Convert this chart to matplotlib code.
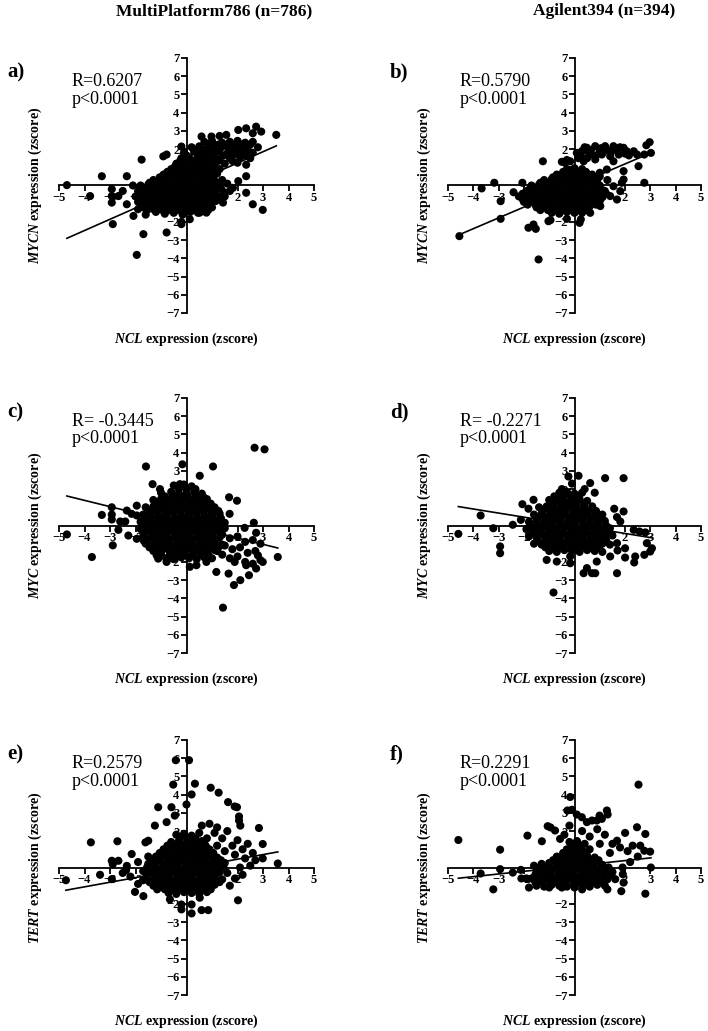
import numpy as np
from matplotlib import pyplot as plt

plt.rcParams['font.family'] = 'Liberation Serif'
plt.rcParams['mathtext.fontset'] = 'custom'
plt.rcParams['mathtext.it'] = 'Liberation Serif:italic:bold'
plt.rcParams['mathtext.rm'] = 'Liberation Serif:bold'

# ---- data (NCL zscore, gene zscore) ----
pts_a = [(-4.69, 0.02), (-3.32, 0.51), (-3.78, -0.58), (-2.93, -0.2), (-2.93, -0.58), (-2.93, -0.94),
         (-2.67, -0.58), (-2.34, 0.51), (-2.34, -1.03), (-2.89, -2.12), (-1.76, 1.42), (-2.08, -1.67),
         (-1.69, -2.67), (-1.95, -3.81), (-0.78, -2.58), (-0.2, -2.0), (-0.2, -2.12), (0.13, -1.85),
         (-0.91, 1.6), (-0.78, 1.7), (-0.2, 2.14), (0.59, 2.69), (0.98, 2.69), (1.30, 2.72), (1.56, 2.78),
         (2.03, 3.05), (2.34, 3.14), (2.73, 3.23), (2.93, 2.96), (2.6, 2.87), (3.52, 2.78), (2.34, 1.14),
         (2.34, 0.51), (2.34, -0.4), (2.03, 0.24), (1.82, -0.13), (2.6, -1.03), (2.99, -1.34), (1.43, -0.94),
         (0.52, -1.49), (0.78, -1.49), (1.04, -0.76), (-2.1, 0.0), (-2.5, -0.3), (-1.6, -1.6), (-1.9, -1.3),
         (1.6, 0.1), (1.7, -0.3), (1.5, -0.6),
         (-1.2, -1.45), (-0.85, -1.55), (-0.5, -1.5), (-0.15, -1.6), (0.15, -1.45), (0.45, -1.5),
         (-1.7, -1.2), (-1.4, -1.25), (-1.1, -1.15), (-0.8, -1.2), (-0.5, -1.25), (-0.2, -1.15), (0.1, -1.2),
         (0.4, -1.25), (0.7, -1.15), (1.0, -1.2),
         (-1.9, -0.9), (-1.6, -0.85), (-1.3, -0.95), (-1.0, -0.9), (-0.7, -0.85), (-0.4, -0.95), (-0.1, -0.9),
         (0.2, -0.85), (0.5, -0.95), (0.8, -0.9), (1.15, -0.85),
         (-2.0, -0.6), (-1.7, -0.55), (-1.4, -0.65), (-1.1, -0.6), (-0.8, -0.55), (-0.5, -0.65), (-0.2, -0.6),
         (0.1, -0.55), (0.4, -0.65), (0.7, -0.6), (1.0, -0.55), (1.3, -0.65),
         (-1.9, -0.3), (-1.6, -0.25), (-1.3, -0.35), (-1.0, -0.3), (-0.7, -0.25), (-0.4, -0.35), (-0.1, -0.3),
         (0.2, -0.25), (0.5, -0.35), (0.8, -0.3), (1.1, -0.25), (1.45, -0.35),
         (-1.8, 0.0), (-1.5, 0.05), (-1.2, -0.05), (-0.9, 0.0), (-0.6, 0.05), (-0.3, -0.05), (0.0, 0.0),
         (0.3, 0.05), (0.6, -0.05), (0.9, 0.0), (1.2, 0.05),
         (-1.3, 0.3), (-1.0, 0.35), (-0.7, 0.25), (-0.4, 0.3), (-0.1, 0.35), (0.2, 0.25), (0.5, 0.3),
         (0.8, 0.35), (1.1, 0.25), (1.4, 0.3),
         (-0.9, 0.6), (-0.6, 0.65), (-0.3, 0.55), (0.0, 0.6), (0.3, 0.65), (0.6, 0.55), (0.9, 0.6), (1.2, 0.65),
         (-0.6, 0.9), (-0.3, 0.95), (0.0, 0.85), (0.3, 0.9), (0.6, 0.95), (0.9, 0.85), (1.3, 0.9),
         (-0.4, 1.2), (-0.1, 1.25), (0.2, 1.15), (0.5, 1.2), (0.8, 1.25), (1.1, 1.15), (1.5, 1.2), (2.0, 1.25),
         (-0.2, 1.5), (0.1, 1.55), (0.4, 1.45), (0.7, 1.5), (1.0, 1.55), (1.3, 1.45), (1.7, 1.5), (2.1, 1.55),
         (2.5, 1.5),
         (-0.1, 1.8), (0.3, 1.85), (0.6, 1.75), (0.9, 1.8), (1.2, 1.85), (1.6, 1.75), (1.9, 1.8), (2.2, 1.85),
         (2.6, 1.8),
         (0.2, 2.1), (0.5, 2.15), (0.8, 2.05), (1.1, 2.1), (1.4, 2.15), (1.8, 2.05), (2.1, 2.1), (2.4, 2.15),
         (2.8, 2.1),
         (0.7, 2.4), (1.0, 2.45), (1.4, 2.35), (1.7, 2.4), (2.0, 2.45), (2.3, 2.35), (2.6, 2.4)]
# dense core of the cloud, as rows: (y, [x, ...])
core_a = [(-1.35, [-1.55, -1.25, -0.95, -0.65, -0.35, -0.05, 0.25, 0.55, 0.85]),
          (-1.05, [-1.75, -1.45, -1.15, -0.85, -0.55, -0.25, 0.05, 0.35, 0.65, 0.95]),
          (-0.75, [-1.85, -1.55, -1.25, -0.95, -0.65, -0.35, -0.05, 0.25, 0.55, 0.85, 1.15]),
          (-0.45, [-1.85, -1.55, -1.25, -0.95, -0.65, -0.35, -0.05, 0.25, 0.55, 0.85, 1.15]),
          (-0.15, [-1.65, -1.35, -1.05, -0.75, -0.45, -0.15, 0.15, 0.45, 0.75, 1.05, 1.35]),
          (0.15, [-1.45, -1.15, -0.85, -0.55, -0.25, 0.05, 0.35, 0.65, 0.95, 1.25]),
          (0.45, [-1.05, -0.75, -0.45, -0.15, 0.15, 0.45, 0.75, 1.05]),
          (0.75, [-0.75, -0.45, -0.15, 0.15, 0.45, 0.75, 1.05]),
          (1.05, [-0.45, -0.15, 0.15, 0.45, 0.75, 1.05]),
          (1.35, [-0.25, 0.05, 0.35, 0.65, 0.95, 1.25, 1.8]),
          (1.65, [0.0, 0.45, 0.75, 1.05, 1.45, 1.8, 2.3]),
          (1.95, [0.4, 0.7, 1.0, 1.3, 1.65, 2.0, 2.4]),
          (2.25, [0.9, 1.25, 1.6, 1.9, 2.2, 2.5])]

pts_b = [(-4.55, -2.78), (-3.67, -0.16), (-3.17, 0.15), (-2.92, -0.86), (-2.92, -1.83), (-2.41, -0.37),
         (-2.06, 0.15), (-1.82, -2.32), (-1.53, -2.38), (-1.62, -2.14), (-1.42, -4.06), (-1.25, 1.33),
         (-1.03, -1.96), (-0.95, -1.9), (-0.3, -1.83), (0.2, -2.05), (0.25, -1.86), (-0.5, 1.3), (-0.3, 1.4),
         (-0.37, 1.24), (-0.17, 1.33), (0.09, 1.79), (0.49, 2.07), (0.82, 2.16), (1.21, 2.16), (1.54, 2.16),
         (1.94, 2.07), (2.34, 1.88), (1.41, 1.61), (1.08, 1.7), (0.62, 1.7), (0.36, 1.33), (0.82, 1.43),
         (1.54, 1.33), (2.07, 1.88), (2.47, 1.70), (2.76, 1.70), (2.84, 2.21), (2.97, 2.38), (3.02, 1.79),
         (2.53, 1.06), (1.94, 0.79), (1.28, 0.88), (2.76, 0.15),
         (0.3, 1.9), (0.65, 1.95), (1.0, 1.9), (1.3, 1.95), (1.7, 1.9), (2.0, 1.75), (0.15, 1.5), (0.5, 1.5),
         (1.8, 2.1), (1.54, -0.04), (1.81, -0.31), (1.94, 0.33), (1.87, 0.15), (1.68, -0.77), (1.41, -0.58),
         (1.02, -1.13), (0.62, -1.5), (1.2, -0.3), (1.0, 0.5), (1.3, 0.3), (0.7, 0.6), (1.0, 0.7),
         (-0.9, -1.5), (-0.6, -1.55), (-0.3, -1.45), (0.0, -1.5), (0.3, -1.5),
         (-1.5, -1.2), (-1.2, -1.15), (-0.9, -1.25), (-0.6, -1.2), (-0.3, -1.15), (0.0, -1.25), (0.3, -1.2),
         (0.6, -1.15),
         (-2.0, -0.9), (-1.7, -0.85), (-1.4, -0.95), (-1.1, -0.9), (-0.8, -0.85), (-0.5, -0.95), (-0.2, -0.9),
         (0.1, -0.85), (0.4, -0.95), (0.7, -0.9), (1.0, -0.85),
         (-2.2, -0.6), (-1.9, -0.55), (-1.6, -0.65), (-1.3, -0.6), (-1.0, -0.55), (-0.7, -0.65), (-0.4, -0.6),
         (-0.1, -0.55), (0.2, -0.65), (0.5, -0.6), (0.8, -0.55), (1.1, -0.65),
         (-1.9, -0.3), (-1.6, -0.25), (-1.3, -0.35), (-1.0, -0.3), (-0.7, -0.25), (-0.4, -0.35), (-0.1, -0.3),
         (0.2, -0.25), (0.5, -0.35), (0.8, -0.3), (1.1, -0.25),
         (-1.7, 0.0), (-1.4, 0.05), (-1.1, -0.05), (-0.8, 0.0), (-0.5, 0.05), (-0.2, -0.05), (0.1, 0.0),
         (0.4, 0.05), (0.7, -0.05), (1.0, 0.0),
         (-1.2, 0.3), (-0.9, 0.35), (-0.6, 0.25), (-0.3, 0.3), (0.0, 0.35), (0.3, 0.25), (0.6, 0.3), (0.9, 0.3),
         (-0.7, 0.6), (-0.4, 0.65), (-0.1, 0.55), (0.2, 0.6), (0.5, 0.65),
         (-0.3, 0.9), (0.0, 0.95), (0.3, 0.9),
         (0.25, 1.65), (0.55, 1.85), (0.85, 1.65), (1.15, 1.85), (1.45, 1.85), (1.75, 1.7), (2.15, 1.65),
         (0.4, 2.1), (1.05, 2.05), (1.65, 2.05)]
core_b = [(-1.35, [-1.35, -1.05, -0.75, -0.45, -0.15, 0.15, 0.45]),
          (-1.05, [-1.85, -1.55, -1.25, -0.95, -0.65, -0.35, -0.05, 0.25, 0.55, 0.85]),
          (-0.75, [-2.05, -1.75, -1.45, -1.15, -0.85, -0.55, -0.25, 0.05, 0.35, 0.65, 0.95]),
          (-0.45, [-2.05, -1.75, -1.45, -1.15, -0.85, -0.55, -0.25, 0.05, 0.35, 0.65, 0.95, 1.25]),
          (-0.15, [-1.75, -1.45, -1.15, -0.85, -0.55, -0.25, 0.05, 0.35, 0.65, 0.95]),
          (0.15, [-1.35, -1.05, -0.75, -0.45, -0.15, 0.15, 0.45, 0.75]),
          (0.45, [-0.85, -0.55, -0.25, 0.05, 0.35, 0.65]),
          (0.75, [-0.45, -0.15, 0.15, 0.45])]

pts_c = [(-4.69, -0.49), (-3.71, -1.73), (-3.32, 0.58), (-2.93, 1.0), (-2.93, 0.6), (-2.93, 0.33),
         (-2.89, -1.09), (-2.67, -0.24), (-2.6, 0.22), (-2.4, 0.22), (-2.28, -0.55), (-2.34, 0.82),
         (-2.15, 0.64), (-1.95, 1.09), (-1.95, 0.55), (-1.95, -0.73), (-1.67, -0.85), (-1.59, 3.24),
         (-1.33, 2.27), (-1.04, 2.0), (-0.16, 3.36), (0.52, 2.73), (1.04, 3.24), (-0.26, 2.27), (2.67, 4.27),
         (3.06, 4.18), (1.67, 1.55), (1.98, 1.36), (1.69, 0.64), (2.64, 0.15), (2.28, -0.13), (2.73, -0.4),
         (3.58, -1.73), (1.43, -4.51),
         (1.86, -3.27), (2.11, -3.0), (2.45, -2.73), (1.65, -2.64), (2.73, -2.36), (2.99, -2.0), (2.34, -2.18),
         (2.8, -1.64), (1.89, -2.0), (1.17, -2.55), (0.78, -2.0), (0.39, -2.18), (0.13, -2.27), (-0.78, -2.0),
         (-1.11, -1.82), (-1.17, -1.64),
         (1.4, -0.5), (1.7, -0.7), (2.0, -0.6), (2.3, -0.9), (2.6, -0.8), (2.9, -1.0), (1.5, -1.1), (1.8, -1.3),
         (2.1, -1.2), (2.4, -1.5), (2.7, -1.4), (1.4, -1.6), (1.7, -1.8), (2.0, -1.7), (2.3, -2.0), (2.6, -2.1),
         (2.9, -1.9), (1.2, -1.4),
         (-0.8, -1.8), (-0.5, -1.85), (-0.2, -1.75), (0.1, -1.8), (0.4, -1.85), (0.7, -1.75), (1.0, -1.8),
         (-1.3, -1.4), (-1.0, -1.45), (-0.7, -1.35), (-0.4, -1.4), (-0.1, -1.45), (0.2, -1.35), (0.5, -1.4),
         (0.8, -1.45), (1.1, -1.35),
         (-1.6, -1.0), (-1.3, -1.05), (-1.0, -0.95), (-0.7, -1.0), (-0.4, -1.05), (-0.1, -0.95), (0.2, -1.0),
         (0.5, -1.05), (0.8, -0.95), (1.1, -1.0), (1.4, -1.05),
         (-1.7, -0.6), (-1.4, -0.65), (-1.1, -0.55), (-0.8, -0.6), (-0.5, -0.65), (-0.2, -0.55), (0.1, -0.6),
         (0.4, -0.65), (0.7, -0.55), (1.0, -0.6), (1.3, -0.65),
         (-1.8, -0.2), (-1.5, -0.25), (-1.2, -0.15), (-0.9, -0.2), (-0.6, -0.25), (-0.3, -0.15), (0.0, -0.2),
         (0.3, -0.25), (0.6, -0.15), (0.9, -0.2), (1.2, -0.25), (1.5, -0.15),
         (-1.8, 0.2), (-1.5, 0.25), (-1.2, 0.15), (-0.9, 0.2), (-0.6, 0.25), (-0.3, 0.15), (0.0, 0.2),
         (0.3, 0.25), (0.6, 0.15), (0.9, 0.2), (1.2, 0.25), (1.5, 0.15),
         (-1.7, 0.6), (-1.4, 0.65), (-1.1, 0.55), (-0.8, 0.6), (-0.5, 0.65), (-0.2, 0.55), (0.1, 0.6),
         (0.4, 0.65), (0.7, 0.55), (1.0, 0.6), (1.3, 0.65),
         (-1.6, 1.0), (-1.3, 1.05), (-1.0, 0.95), (-0.7, 1.0), (-0.4, 1.05), (-0.1, 0.95), (0.2, 1.0),
         (0.5, 1.05), (0.8, 0.95), (1.1, 1.0),
         (-1.3, 1.4), (-1.0, 1.45), (-0.7, 1.35), (-0.4, 1.4), (-0.1, 1.45), (0.2, 1.35), (0.5, 1.4), (0.8, 1.45),
         (-1.0, 1.8), (-0.6, 1.85), (-0.3, 1.75), (0.0, 1.8), (0.3, 1.85), (0.6, 1.75),
         (-0.5, 2.2), (-0.1, 2.25), (0.2, 2.15)]
core_c = [(-1.6, [-1.0, -0.65, -0.35, -0.05, 0.25, 0.55, 0.85]),
          (-1.2, [-1.45, -1.15, -0.85, -0.55, -0.25, 0.05, 0.35, 0.65, 0.95, 1.25]),
          (-0.8, [-1.55, -1.25, -0.95, -0.65, -0.35, -0.05, 0.25, 0.55, 0.85, 1.15]),
          (-0.4, [-1.65, -1.35, -1.05, -0.75, -0.45, -0.15, 0.15, 0.45, 0.75, 1.05, 1.35]),
          (0.0, [-1.65, -1.35, -1.05, -0.75, -0.45, -0.15, 0.15, 0.45, 0.75, 1.05, 1.35]),
          (0.4, [-1.65, -1.35, -1.05, -0.75, -0.45, -0.15, 0.15, 0.45, 0.75, 1.05, 1.35]),
          (0.8, [-1.45, -1.15, -0.85, -0.55, -0.25, 0.05, 0.35, 0.65, 0.95, 1.25]),
          (1.2, [-1.15, -0.85, -0.55, -0.25, 0.05, 0.35, 0.65, 0.95]),
          (1.6, [-0.85, -0.55, -0.25, 0.05, 0.35, 0.65]),
          (2.0, [-0.3, 0.0, 0.35])]

pts_d = [(-4.59, -0.46), (-3.71, 0.55), (-3.21, -0.15), (-2.94, -1.15), (-2.94, -1.52), (-2.44, 0.04),
         (-2.12, 0.31), (-2.06, 1.17), (-1.82, 0.92), (-1.62, 1.41), (-0.83, -3.68), (-0.24, 2.69),
         (0.16, 2.73), (0.62, 2.33), (1.21, 2.6), (1.94, 2.6), (1.57, 0.92), (1.94, 0.77), (1.81, 0.22),
         (1.68, 0.46), (2.34, -0.24), (2.57, -0.33), (2.8, -0.38), (2.86, -0.97), (3.06, -1.25), (2.99, -1.43),
         (2.76, -1.61), (2.4, -1.70), (2.0, -1.25), (2.0, -1.76), (1.68, -0.97), (1.70, -1.37),
         (0.36, -2.62), (0.69, -2.62), (0.82, -2.62), (1.68, -2.62), (0.49, -2.34), (0.88, -1.98), (1.41, -1.70),
         (-1.1, -1.89), (-0.7, -1.98), (-0.17, -2.07), (-0.17, -1.70), (2.36, -2.03),
         (-0.5, 2.0), (-0.1, 2.3), (0.4, 2.0), (0.8, 1.8), (-0.8, 1.6),
         (-1.0, -1.4), (-0.7, -1.45), (-0.4, -1.35), (-0.1, -1.4), (0.2, -1.45), (0.5, -1.35), (0.8, -1.4),
         (1.1, -1.45),
         (-1.6, -1.0), (-1.3, -1.05), (-1.0, -0.95), (-0.7, -1.0), (-0.4, -1.05), (-0.1, -0.95), (0.2, -1.0),
         (0.5, -1.05), (0.8, -0.95), (1.1, -1.0), (1.4, -1.05),
         (-1.8, -0.6), (-1.5, -0.65), (-1.2, -0.55), (-0.9, -0.6), (-0.6, -0.65), (-0.3, -0.55), (0.0, -0.6),
         (0.3, -0.65), (0.6, -0.55), (0.9, -0.6), (1.2, -0.65), (1.5, -0.55),
         (-1.9, -0.2), (-1.6, -0.25), (-1.3, -0.15), (-1.0, -0.2), (-0.7, -0.25), (-0.4, -0.15), (-0.1, -0.2),
         (0.2, -0.25), (0.5, -0.15), (0.8, -0.2), (1.1, -0.25), (1.4, -0.15),
         (-1.8, 0.2), (-1.5, 0.25), (-1.2, 0.15), (-0.9, 0.2), (-0.6, 0.25), (-0.3, 0.15), (0.0, 0.2),
         (0.3, 0.25), (0.6, 0.15), (0.9, 0.2), (1.2, 0.25),
         (-1.6, 0.6), (-1.3, 0.65), (-1.0, 0.55), (-0.7, 0.6), (-0.4, 0.65), (-0.1, 0.55), (0.2, 0.6),
         (0.5, 0.65), (0.8, 0.55), (1.1, 0.6),
         (-1.4, 1.0), (-1.1, 1.05), (-0.8, 0.95), (-0.5, 1.0), (-0.2, 1.05), (0.1, 0.95), (0.4, 1.0), (0.7, 1.05),
         (-1.0, 1.4), (-0.7, 1.45), (-0.4, 1.35), (-0.1, 1.4), (0.2, 1.45), (0.5, 1.35),
         (-0.6, 1.8), (-0.3, 1.85), (0.0, 1.75), (0.3, 1.8)]
core_d = [(-1.2, [-1.15, -0.85, -0.55, -0.25, 0.05, 0.35, 0.65, 0.95]),
          (-0.8, [-1.45, -1.15, -0.85, -0.55, -0.25, 0.05, 0.35, 0.65, 0.95, 1.25]),
          (-0.4, [-1.65, -1.35, -1.05, -0.75, -0.45, -0.15, 0.15, 0.45, 0.75, 1.05, 1.35]),
          (0.0, [-1.75, -1.45, -1.15, -0.85, -0.55, -0.25, 0.05, 0.35, 0.65, 0.95, 1.25]),
          (0.4, [-1.45, -1.15, -0.85, -0.55, -0.25, 0.05, 0.35, 0.65, 0.95]),
          (0.8, [-1.25, -0.95, -0.65, -0.35, -0.05, 0.25, 0.55, 0.85]),
          (1.2, [-0.85, -0.55, -0.25, 0.05, 0.35]),
          (1.6, [-0.45, -0.15, 0.15])]

pts_e = [(-4.73, -0.7), (-3.75, 1.38), (-3.39, -0.4), (-2.93, 0.37), (-2.93, -0.64), (-2.89, 0.18),
         (-2.67, 0.37), (-2.71, 1.44), (-2.34, 0.09), (-2.37, -0.15), (-2.15, 0.74), (-2.02, -1.34),
         (-1.69, -1.57), (-1.61, 1.38), (-1.5, 1.47), (-1.11, 3.31), (-1.24, 2.3), (-0.78, 2.49), (-0.59, 3.31),
         (-0.46, 2.85), (-0.42, 5.89), (0.1, 5.89), (-0.52, 4.55), (0.2, 4.01), (0.33, 4.6), (0.0, 3.46),
         (0.95, 4.38), (1.26, 4.11), (1.63, 3.59), (1.89, 3.35), (1.98, 3.31), (2.06, 2.8), (2.06, 2.58),
         (2.11, 2.3), (2.84, 2.17), (2.99, 1.29), (2.99, 0.5), (3.58, 0.22), (2.02, -1.8),
         (-0.2, -2.03), (0.2, -2.03), (-0.2, -2.3), (0.2, -2.52), (0.59, -2.34), (0.85, -2.34), (-0.65, -1.75),
         (0.52, -1.66),
         (0.6, 2.3), (0.9, 2.4), (1.2, 2.2), (0.5, 1.9), (0.8, 1.6), (1.1, 1.9), (1.4, 1.6), (1.6, 2.0),
         (1.8, 1.2), (2.0, 1.5), (2.2, 1.0), (2.4, 1.3), (2.6, 0.8), (2.7, 0.4), (2.3, 0.5), (1.9, 0.7),
         (1.5, 0.9), (1.2, 1.2), (2.1, 0.0), (2.5, 0.1), (1.6, -0.3), (1.9, -0.6), (1.3, -0.8), (1.7, -1.0),
         (2.2, -0.4),
         (-2.5, -0.3), (-2.2, -0.5), (-1.9, 0.3), (-1.7, -0.7), (-1.5, 0.6), (-1.9, -0.9),
         (-0.7, -1.4), (-0.4, -1.45), (-0.1, -1.35), (0.2, -1.4), (0.5, -1.45), (0.8, -1.35),
         (-1.3, -1.0), (-1.0, -1.05), (-0.7, -0.95), (-0.4, -1.0), (-0.1, -1.05), (0.2, -0.95), (0.5, -1.0),
         (0.8, -1.05), (1.1, -0.95),
         (-1.6, -0.6), (-1.3, -0.65), (-1.0, -0.55), (-0.7, -0.6), (-0.4, -0.65), (-0.1, -0.55), (0.2, -0.6),
         (0.5, -0.65), (0.8, -0.55), (1.1, -0.6), (1.4, -0.65),
         (-1.7, -0.2), (-1.4, -0.25), (-1.1, -0.15), (-0.8, -0.2), (-0.5, -0.25), (-0.2, -0.15), (0.1, -0.2),
         (0.4, -0.25), (0.7, -0.15), (1.0, -0.2), (1.3, -0.25),
         (-1.5, 0.2), (-1.2, 0.25), (-0.9, 0.15), (-0.6, 0.2), (-0.3, 0.25), (0.0, 0.15), (0.3, 0.2),
         (0.6, 0.25), (0.9, 0.15), (1.2, 0.2), (1.5, 0.25),
         (-1.2, 0.6), (-0.9, 0.65), (-0.6, 0.55), (-0.3, 0.6), (0.0, 0.65), (0.3, 0.55), (0.6, 0.6),
         (0.9, 0.65), (1.2, 0.55),
         (-0.9, 1.0), (-0.6, 1.05), (-0.3, 0.95), (0.0, 1.0), (0.3, 1.05), (0.6, 0.95), (0.9, 1.0),
         (-0.6, 1.4), (-0.3, 1.45), (0.0, 1.35), (0.3, 1.4), (0.6, 1.45),
         (-0.4, 1.8), (-0.1, 1.85), (0.2, 1.75)]
core_e = [(-1.2, [-1.15, -0.85, -0.55, -0.25, 0.05, 0.35, 0.65, 0.95]),
          (-0.8, [-1.45, -1.15, -0.85, -0.55, -0.25, 0.05, 0.35, 0.65, 0.95, 1.25]),
          (-0.4, [-1.55, -1.25, -0.95, -0.65, -0.35, -0.05, 0.25, 0.55, 0.85, 1.15]),
          (0.0, [-1.55, -1.25, -0.95, -0.65, -0.35, -0.05, 0.25, 0.55, 0.85, 1.15, 1.45]),
          (0.4, [-1.35, -1.05, -0.75, -0.45, -0.15, 0.15, 0.45, 0.75, 1.05, 1.35]),
          (0.8, [-1.05, -0.75, -0.45, -0.15, 0.15, 0.45, 0.75, 1.05]),
          (1.2, [-0.75, -0.45, -0.15, 0.15, 0.45, 0.75]),
          (1.6, [-0.25, 0.05, 0.35])]

pts_f = [(-4.59, 1.51), (-3.71, -0.33), (-3.21, -1.2), (-2.94, 0.98), (-2.94, -0.09), (-2.44, -0.28),
         (-2.12, -0.13), (-1.86, 1.75), (-1.06, 2.27), (-0.95, 2.2), (-1.29, 1.44), (-0.77, 2.03),
         (-0.57, 1.57), (-0.17, 3.87), (-0.28, 3.13), (-0.1, 3.17), (0.09, 2.91), (0.29, 2.76),
         (0.49, 2.49), (0.69, 2.58), (0.88, 2.58), (0.99, 2.85), (1.08, 2.67), (1.28, 3.13), (1.31, 2.91),
         (2.53, 4.55), (2.47, 2.21), (2.8, 1.84), (2.76, 0.92), (2.99, 0.87), (3.02, 0.0), (2.0, 1.9),
         (1.68, 1.47), (2.8, -1.44), (1.94, -0.83), (1.61, -0.64), (1.9, 0.0), (1.91, -0.37),
         (0.3, 2.0), (0.6, 1.7), (0.9, 2.1), (1.2, 1.8), (1.5, 1.3), (1.8, 1.1), (2.1, 0.9), (2.3, 1.2),
         (2.5, 0.6), (1.0, 1.3), (0.4, 1.3), (2.2, 0.3), (1.4, 0.8), (-0.4, 1.8), (-0.2, 2.3), (2.6, 1.2),
         (0.0, -1.1), (0.3, -1.2), (0.6, -1.0), (-0.5, -1.1), (-1.0, -1.1), (-1.8, -1.1), (1.3, -1.2),
         (1.85, -1.3), (-1.9, -0.6), (-2.1, -0.6), (-1.6, 0.1),
         (-1.5, -1.0), (-1.2, -1.05), (-0.9, -0.95), (-0.6, -1.0), (-0.3, -1.05), (0.0, -0.95), (0.3, -1.0),
         (0.6, -1.05), (0.9, -0.95), (1.2, -1.0),
         (-1.7, -0.6), (-1.4, -0.65), (-1.1, -0.55), (-0.8, -0.6), (-0.5, -0.65), (-0.2, -0.55), (0.1, -0.6),
         (0.4, -0.65), (0.7, -0.55), (1.0, -0.6), (1.3, -0.65),
         (-1.5, -0.2), (-1.2, -0.25), (-0.9, -0.15), (-0.6, -0.2), (-0.3, -0.25), (0.0, -0.15), (0.3, -0.2),
         (0.6, -0.25), (0.9, -0.15), (1.2, -0.2), (1.5, -0.25),
         (-1.3, 0.2), (-1.0, 0.25), (-0.7, 0.15), (-0.4, 0.2), (-0.1, 0.25), (0.2, 0.15), (0.5, 0.2),
         (0.8, 0.25), (1.1, 0.15),
         (-0.7, 0.6), (-0.4, 0.65), (-0.1, 0.55), (0.2, 0.6), (0.5, 0.65), (0.8, 0.55),
         (-0.3, 1.0), (0.0, 1.05), (0.3, 0.95), (0.6, 1.0),
         (-0.2, 1.4), (0.1, 1.45)]
core_f = [(-0.8, [-1.55, -1.25, -0.95, -0.65, -0.35, -0.05, 0.25, 0.55, 0.85, 1.15]),
          (-0.4, [-1.55, -1.25, -0.95, -0.65, -0.35, -0.05, 0.25, 0.55, 0.85, 1.15, 1.45]),
          (0.0, [-1.35, -1.05, -0.75, -0.45, -0.15, 0.15, 0.45, 0.75, 1.05, 1.35]),
          (0.4, [-0.85, -0.55, -0.25, 0.05, 0.35, 0.65, 0.95]),
          (0.8, [-0.45, -0.15, 0.15, 0.45]),
          (1.2, [-0.1, 0.2])]

panel_points = [pts_a, pts_b, pts_c, pts_d, pts_e, pts_f]
panel_cores = [core_a, core_b, core_c, core_d, core_e, core_f]
panel_letters = ['a)', 'b)', 'c)', 'd)', 'e)', 'f)']
r_texts = ['R=0.6207', 'R=0.5790', 'R= -0.3445', 'R= -0.2271', 'R=0.2579', 'R=0.2291']
genes = ['MYCN', 'MYCN', 'MYC', 'MYC', 'TERT', 'TERT']
fit_slope = [0.618, 0.593, -0.345, -0.224, 0.253, 0.147]
fit_intercept = [0.0, 0.0, 0.0, 0.01, -0.05, 0.085]
col_titles = ['MultiPlatform786 (n=786)', 'Agilent394 (n=394)']
xticks = [-5, -4, -3, -2, -1, 1, 2, 3, 4, 5]
yticks = [-7, -6, -5, -4, -3, -2, -1, 1, 2, 3, 4, 5, 6, 7]

W, H = 708, 1031
fig = plt.figure(figsize=(W / 100, H / 100), dpi=100)

col_left = [59, 448]
col_width = [255, 253]
row_top = [58, 398, 740]
ax_h = 255


def fpos(x, y):
    return x / W, 1 - y / H


for i, pts in enumerate(panel_points):
    r, c = divmod(i, 2)
    left, bottom = fpos(col_left[c], row_top[r] + ax_h)
    ax = fig.add_axes([left, bottom, col_width[c] / W, ax_h / H])
    xs = [p[0] for p in pts]
    ys = [p[1] for p in pts]
    for yrow, xrow in panel_cores[i]:
        xs += xrow
        ys += [yrow] * len(xrow)
    xs = np.array(xs)
    ys = np.array(ys)
    ax.scatter(xs, ys, s=34, color='black', edgecolors='none', zorder=2)
    lx = np.array([xs.min(), xs.max()])
    ax.plot(lx, fit_slope[i] * lx + fit_intercept[i], color='black', lw=1.2, zorder=3)

    ax.set_xlim(-5, 5)
    ax.set_ylim(-7, 7)
    for s in ['top', 'right']:
        ax.spines[s].set_visible(False)
    ax.spines['left'].set_position(('data', 0))
    ax.spines['bottom'].set_position(('data', 0))
    for s in ['left', 'bottom']:
        ax.spines[s].set_linewidth(1.3)
        ax.spines[s].set_zorder(1)
    ax.set_xticks(xticks)
    ax.set_yticks(yticks)
    ax.tick_params(direction='out', length=4, width=1.3, labelsize=9, pad=1)
    for lbl in ax.get_xticklabels() + ax.get_yticklabels():
        lbl.set_fontweight('bold')

    ax.text(0.5, -0.105, r'$\it{NCL}$ expression (zscore)', transform=ax.transAxes,
            ha='center', va='center', fontsize=10, fontweight='bold')
    ax.text(-0.094, 0.5, r'$\it{%s}$ expression (zscore)' % genes[i], transform=ax.transAxes,
            ha='center', va='center', rotation=90, fontsize=10, fontweight='bold')

    lx0 = [7, 390][c]
    fig.text(*fpos(lx0, row_top[r] + 14), panel_letters[i], ha='left', va='center',
             fontsize=15, fontweight='bold')
    rx = [72, 460][c]
    fig.text(*fpos(rx, row_top[r] + 24), r_texts[i], ha='left', va='center', fontsize=13)
    fig.text(*fpos(rx, row_top[r] + 41), 'p<0.0001', ha='left', va='center', fontsize=13)

fig.text(*fpos(214, 11), col_titles[0], ha='center', va='center', fontsize=12.5, fontweight='bold')
fig.text(*fpos(604, 11), col_titles[1], ha='center', va='center', fontsize=12.5, fontweight='bold')

plt.savefig('out.png', dpi=100)
